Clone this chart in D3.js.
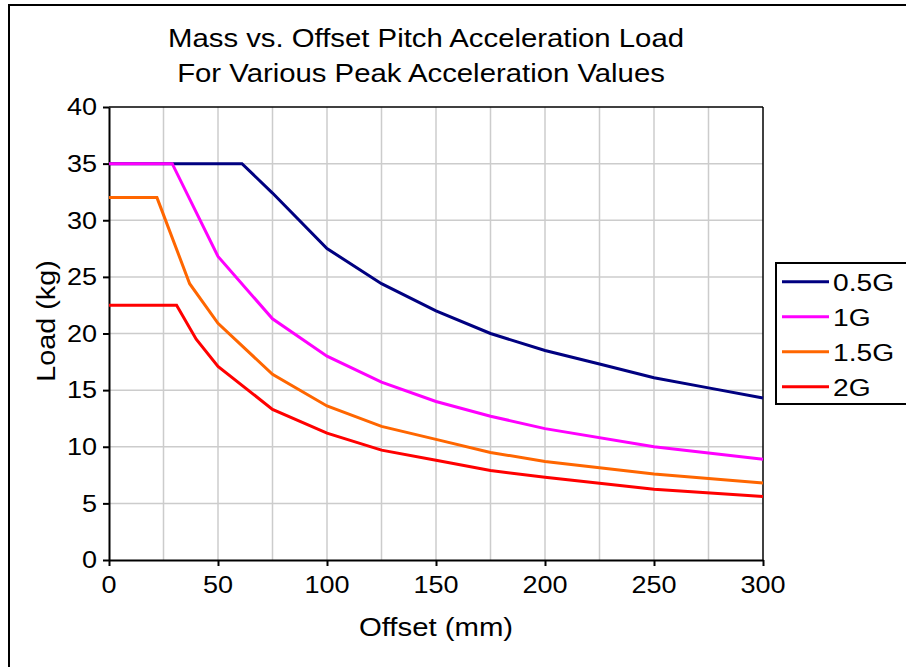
<!DOCTYPE html>
<html>
<head>
<meta charset="utf-8">
<script src="https://cdn.jsdelivr.net/npm/d3@7/dist/d3.min.js"></script>
<style>
  html, body { margin: 0; padding: 0; background: #fff; }
  svg { display: block; }
  text { font-family: "Liberation Sans", Arial, sans-serif; fill: #000; }
</style>
</head>
<body>
<svg id="chart" width="906" height="667"></svg>
<script>
// ---- data ----
const seriesNames = ["0.5G", "1G", "1.5G", "2G"];
const seriesColors = ["#000080", "#ff00ff", "#ff6600", "#ff0000"];

const offsets05 = [0, 61, 75, 100, 125, 150, 175, 200, 225, 250, 275, 300];
const load05    = [35, 35, 32.4, 27.5, 24.4, 22.0, 20.0, 18.5, 17.3, 16.1, 15.2, 14.3];

const offsets1 = [0, 29, 50, 75, 100, 125, 150, 175, 200, 250, 300];
const load1    = [35, 35, 26.8, 21.3, 18.0, 15.7, 14.0, 12.7, 11.6, 10.0, 8.9];

const offsets15 = [0, 22, 37, 50, 75, 100, 125, 150, 175, 200, 250, 300];
const load15    = [32, 32, 24.4, 20.9, 16.4, 13.6, 11.8, 10.65, 9.5, 8.7, 7.6, 6.8];

const offsets2 = [0, 31, 40, 50, 75, 100, 125, 150, 175, 200, 250, 300];
const load2    = [22.5, 22.5, 19.5, 17.1, 13.3, 11.2, 9.7, 8.8, 7.9, 7.3, 6.25, 5.6];

const xTicks = [0, 50, 100, 150, 200, 250, 300];
const yTicks = [0, 5, 10, 15, 20, 25, 30, 35, 40];
const xGrid = [25, 50, 75, 100, 125, 150, 175, 200, 225, 250, 275];
const yGrid = [5, 10, 15, 20, 25, 30, 35];

const titleLines = ["Mass vs. Offset Pitch Acceleration Load", "For Various Peak Acceleration Values"];
const xLabel = "Offset (mm)";
const yLabel = "Load (kg)";

const allX = [offsets05, offsets1, offsets15, offsets2];
const allY = [load05, load1, load15, load2];
const series = seriesNames.map((n, i) => ({
  name: n, color: seriesColors[i],
  points: allX[i].map((x, j) => ({ x: x, y: allY[i][j] }))
}));

// ---- layout ----
const SX = 1.15; // horizontal glyph stretch seen in reference
const svg = d3.select("#chart");
const L = 109, R = 763, T = 107, B = 560;
const x = d3.scaleLinear().domain([0, 300]).range([L, R]);
const y = d3.scaleLinear().domain([0, 40]).range([B, T]);

function stretchedText(g, tx, ty, str, size, anchor, rot) {
  const t = g.append("text")
    .attr("transform", `translate(${tx},${ty})` + (rot ? ` rotate(${rot})` : "") + ` scale(${SX},1)`)
    .attr("font-size", size)
    .attr("text-anchor", anchor)
    .text(str);
  return t;
}

// outer frame
svg.append("rect").attr("x", 9).attr("y", 5).attr("width", 1000).attr("height", 1000)
  .attr("fill", "none").attr("stroke", "#000").attr("stroke-width", 2);

// gridlines
const grid = svg.append("g");
grid.selectAll("line.vg").data(xGrid).enter().append("line")
  .attr("x1", d => x(d)).attr("x2", d => x(d)).attr("y1", T).attr("y2", B)
  .attr("stroke", "#cccccc").attr("stroke-width", 1.5);
grid.selectAll("line.hg").data(yGrid).enter().append("line")
  .attr("y1", d => y(d)).attr("y2", d => y(d)).attr("x1", L).attr("x2", R)
  .attr("stroke", "#cccccc").attr("stroke-width", 1.5);

// plot box top/right
svg.append("line").attr("x1", L).attr("x2", R).attr("y1", T).attr("y2", T)
  .attr("stroke", "#000").attr("stroke-width", 1.5);
svg.append("line").attr("x1", R).attr("x2", R).attr("y1", T).attr("y2", B)
  .attr("stroke", "#000").attr("stroke-width", 1.5);

// axes
const xAxis = svg.append("g").attr("transform", `translate(0,${B})`)
  .call(d3.axisBottom(x).tickValues(xTicks).tickSize(6).tickSizeOuter(0).tickFormat(""));
const yAxis = svg.append("g").attr("transform", `translate(${L},0)`)
  .call(d3.axisLeft(y).tickValues(yTicks).tickSize(6).tickSizeOuter(0).tickFormat(""));
[xAxis, yAxis].forEach(a => {
  a.select(".domain").attr("stroke", "#000").attr("stroke-width", 2);
  a.selectAll(".tick line").attr("stroke", "#000").attr("stroke-width", 2);
});

// tick labels
const lab = svg.append("g");
xTicks.forEach(v => stretchedText(lab, x(v), 593, String(v), 23.5, "middle"));
yTicks.forEach(v => stretchedText(lab, 97, y(v) + 8.3, String(v), 23.5, "end"));

// axis titles
stretchedText(lab, x(150), 636, xLabel, 25.5, "middle");
stretchedText(lab, 55, 321, yLabel, 25, "middle", -90);

// title
stretchedText(lab, 426, 47, titleLines[0], 25.5, "middle");
stretchedText(lab, 421, 82, titleLines[1], 25.5, "middle");

// lines
const line = d3.line().x(d => x(d.x)).y(d => y(d.y));
svg.append("g").selectAll("path").data(series).enter().append("path")
  .attr("d", d => line(d.points))
  .attr("fill", "none")
  .attr("stroke", d => d.color)
  .attr("stroke-width", 3)
  .attr("stroke-linejoin", "miter");

// legend
const leg = svg.append("g");
leg.append("rect").attr("x", 776).attr("y", 263).attr("width", 200).attr("height", 141)
  .attr("fill", "#fff").attr("stroke", "#000").attr("stroke-width", 2);
series.forEach((s, i) => {
  const cy = 281.7 + i * 35;
  leg.append("line").attr("x1", 782).attr("x2", 829).attr("y1", cy).attr("y2", cy)
    .attr("stroke", s.color).attr("stroke-width", 3);
  stretchedText(leg, 833, cy + 8.8, s.name, 24.5, "start");
});
</script>
</body>
</html>
